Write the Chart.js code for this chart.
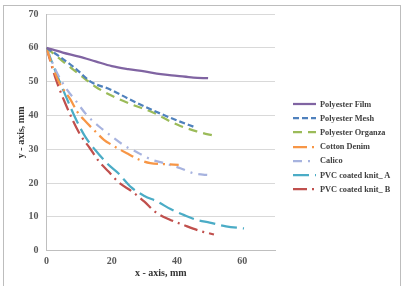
<!DOCTYPE html>
<html>
<head>
<meta charset="utf-8">
<script src="https://cdn.jsdelivr.net/npm/chart.js@4"></script>
<style>
  body { margin: 0; background: #fff; }
  #wrap { position: relative; width: 410px; height: 286px; overflow: hidden; }
  #frame { position: absolute; left: 3px; top: 5px; width: 396px; height: 300px; border: 1px solid #bdbdbd; }
  #legend { position: absolute; left: 293px; top: 97px; font-family: "Liberation Serif", serif; font-size: 8.3px; font-weight: bold; color: #404040; }
  #legend .row { height: 14.2px; display: flex; align-items: center; white-space: nowrap; }
  #legend svg { width: 27px; height: 6px; flex: none; }
</style>
</head>
<body>
<div id="wrap">
  <div id="frame"></div>
  <canvas id="chart" width="410" height="286"></canvas>
  <div id="legend"></div>
</div>
<script>
// series names, colours and dash patterns
const names = ["Polyester Film", "Polyester Mesh", "Polyester Organza", "Cotton Denim", "Calico", "PVC coated knit_ A", "PVC coated knit_ B"];
const colors = ["#8064A2", "#4F81BD", "#9BBB59", "#F79646", "#A7B3DF", "#4BACC6", "#C0504D"];
const dashes = [[], [6, 3], [9, 6], [14, 5, 2, 5], [9, 6, 2, 6], [16, 6], [14, 5, 2, 5]];

// values (x, y in mm)
const filmX = [0, 5, 10, 15, 20, 25, 30, 35, 40, 45, 49.5];
const filmY = [60, 58.6, 57.4, 56.0, 54.6, 53.7, 53.0, 52.2, 51.7, 51.2, 51.0];
const meshX = [0, 4, 9, 13.5, 19.5, 25, 29.7, 35, 40, 45.5];
const meshY = [60, 57.4, 53.8, 50.0, 47.7, 45.0, 42.8, 40.5, 38.5, 36.5];
const organzaX = [0, 5, 10, 15, 20.5, 26, 32.8, 38, 41, 46, 51.8];
const organzaY = [60, 56, 52.2, 48.5, 45.6, 43.3, 40.8, 38.2, 36.9, 35.3, 33.9];
const denimX = [0, 2, 4, 7.4, 9.4, 11.5, 14.5, 17.6, 20, 24.6, 28.7, 31.8, 35.8, 40.5];
const denimY = [60, 54, 49.5, 44.6, 41.1, 38.7, 35.7, 32.8, 31.3, 28.8, 26.8, 25.9, 25.6, 25.4];
const calicoX = [0, 3, 6, 9, 12, 16, 20, 24, 28, 32, 36, 41, 45, 50.2];
const calicoY = [60, 53, 48, 44.3, 40.5, 36.8, 33.8, 31, 29, 27, 25.9, 24.4, 22.9, 22.3];
const pvcAX = [0, 3.6, 6, 9.2, 12, 15, 19, 22, 26, 30, 34, 38, 42, 46, 50, 55, 60.5];
const pvcAY = [60, 51, 45.5, 38.5, 33.5, 29.7, 25.4, 22.9, 18.7, 16.2, 14.5, 12.3, 10.6, 9.1, 8.3, 7.2, 6.6];
const pvcBX = [0, 2.6, 6, 10.2, 13.3, 16, 19, 22, 26.2, 30, 33.3, 37.5, 42, 46.5, 51.3];
const pvcBY = [60, 51.5, 43, 34.5, 30.3, 26.5, 23.4, 20.3, 17.5, 14.5, 11.5, 9.3, 7.6, 6, 4.8];

const xValues = [filmX, meshX, organzaX, denimX, calicoX, pvcAX, pvcBX];
const yValues = [filmY, meshY, organzaY, denimY, calicoY, pvcAY, pvcBY];

const yTicks = [0, 10, 20, 30, 40, 50, 60, 70];
const xTicks = [0, 20, 40, 60];

const tickFont = { family: "Liberation Serif", size: 10, weight: "bold" };
const titleFont = { family: "Liberation Serif", size: 10, weight: "bold" };

const datasets = names.map((name, i) => ({
  label: name,
  data: xValues[i].map((x, j) => ({ x: x, y: yValues[i][j] })),
  borderColor: colors[i],
  backgroundColor: colors[i],
  borderDash: dashes[i],
  borderWidth: 2.25,
  pointRadius: 0,
  tension: 0.4,
  cubicInterpolationMode: "monotone",
  fill: false,
}));

new Chart(document.getElementById("chart"), {
  type: "line",
  data: { datasets: datasets },
  options: {
    responsive: false,
    animation: false,
    layout: { padding: { left: 0, right: 135, top: 14, bottom: 2.3 } },
    plugins: { legend: { display: false }, tooltip: { enabled: false } },
    scales: {
      x: {
        type: "linear",
        min: 0,
        max: 70,
        afterBuildTicks: (s) => { s.ticks = xTicks.map((v) => ({ value: v })); },
        afterFit: (s) => { s.height = 33; },
        grid: { display: false, drawTicks: false },
        border: { display: true, color: "#bfbfbf", width: 1 },
        ticks: { font: tickFont, color: "#595959", padding: 5, maxRotation: 0 },
        title: { display: true, text: "x - axis, mm", font: titleFont, color: "#333", padding: { top: 0, bottom: 4.5 } },
      },
      y: {
        min: 0,
        max: 70,
        afterBuildTicks: (s) => { s.ticks = yTicks.map((v) => ({ value: v })); },
        afterFit: (s) => { s.width = 46.5; },
        grid: { color: "#d9d9d9", drawTicks: false },
        border: { display: true, color: "#bfbfbf", width: 1 },
        ticks: { font: tickFont, color: "#595959", padding: 8 },
        title: { display: true, text: "y - axis, mm", font: titleFont, color: "#333", padding: { top: 15, bottom: 0 } },
      },
    },
  },
});

// legend built from the same arrays
const legend = document.getElementById("legend");
names.forEach((name, i) => {
  const row = document.createElement("div");
  row.className = "row";
  row.innerHTML =
    '<svg viewBox="0 0 27 6"><line x1="0" y1="3" x2="23" y2="3" stroke="' + colors[i] +
    '" stroke-width="2.25" stroke-dasharray="' + (dashes[i].length ? dashes[i].join(" ") : "none") +
    '"/></svg><span>' + name + "</span>";
  legend.appendChild(row);
});
</script>
</body>
</html>
